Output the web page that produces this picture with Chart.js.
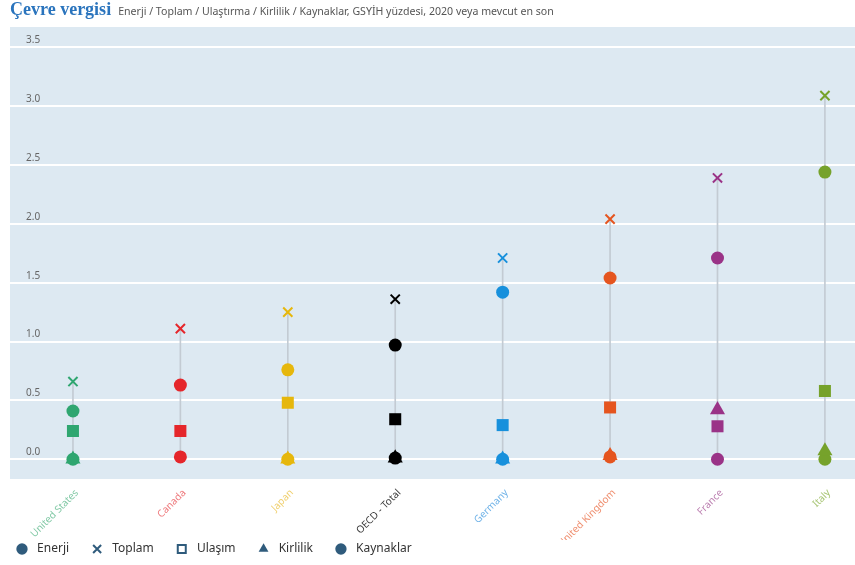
<!DOCTYPE html>
<html>
<head>
<meta charset="utf-8">
<script src="https://cdn.jsdelivr.net/npm/chart.js@4.4.1/dist/chart.umd.min.js"></script>
<style>
  body { margin: 0; background: #fff; }
  #wrap { position: relative; width: 855px; height: 565px; }
  #head { position: absolute; left: 10px; top: 0; height: 18px; line-height: 18px; white-space: nowrap; }
  #head b { font-family: "Liberation Serif", serif; font-size: 18px; color: #2a74bd; }
  #head span { font-family: "Noto Sans", sans-serif; font-size: 10.6px; color: #555; margin-left: 7px; }
  canvas { position: absolute; left: 0; top: 0; }
</style>
</head>
<body>
<div id="wrap">
  <canvas id="chart" width="855" height="565"></canvas>
  <div id="head"><b>Çevre vergisi</b><span>Enerji / Toplam / Ulaştırma / Kirlilik / Kaynaklar, GSYİH yüzdesi, 2020 veya mevcut en son</span></div>
</div>
<script>
// values, % of GDP
const countries = ['United States', 'Canada', 'Japan', 'OECD - Total', 'Germany', 'United Kingdom', 'France', 'Italy'];
const countryColors = ['#2fa670', '#e5262b', '#e6b70c', '#000000', '#1790dc', '#e5551f', '#9a3387', '#76a22b'];
const labelColors = ['#82c9a6', '#ee7a7d', '#f0d06f', '#3a3a3a', '#72b4e8', '#ef8e6e', '#bd82b2', '#a8c575'];

const enerji    = [0.41, 0.63, 0.76, 0.97, 1.42, 1.54, 1.71, 2.44];
const toplam    = [0.66, 1.11, 1.25, 1.36, 1.71, 2.04, 2.39, 3.09];
const ulasim    = [0.24, 0.24, 0.48, 0.34, 0.29, 0.44, 0.28, 0.58];
const kirlilik  = [0.00, null, 0.00, 0.01, 0.00, 0.03, 0.42, 0.07];
const kaynaklar = [0.00, 0.02, 0.00, 0.01, 0.00, 0.02, 0.00, 0.00];

const yTicks = [0, 0.5, 1, 1.5, 2, 2.5, 3, 3.5];

const legendColor = '#2f5b7c';

function pts(arr) {
    return arr.map((v, i) => ({ x: i, y: v }));
}

// grey stem from lowest to highest value for each country
const stems = countries.map((c, i) => {
    const vals = [enerji[i], toplam[i], ulasim[i], kirlilik[i], kaynaklar[i]].filter(v => v !== null);
    return { x: i, y: [Math.min(...vals), Math.max(...vals)] };
});

const plotBg = {
    id: 'plotBg',
    beforeDraw(chart) {
        const a = chart.chartArea;
        const ctx = chart.ctx;
        ctx.save();
        ctx.fillStyle = '#dde9f2';
        ctx.fillRect(a.left, a.top, a.right - a.left, a.bottom - a.top);
        ctx.restore();
    }
};

new Chart(document.getElementById('chart'), {
    type: 'scatter',
    data: {
        datasets: [
            { label: 'Enerji', data: pts(enerji), pointStyle: 'circle', pointRadius: 6.5,
              backgroundColor: countryColors, borderColor: countryColors, borderWidth: 0 },
            { label: 'Toplam', data: pts(toplam), pointStyle: 'crossRot', pointRadius: 6.5,
              backgroundColor: countryColors, borderColor: countryColors, borderWidth: 2 },
            { label: 'Ulaşım', data: pts(ulasim), pointStyle: 'rect', pointRadius: 8.5,
              backgroundColor: countryColors, borderColor: countryColors, borderWidth: 0 },
            { label: 'Kirlilik', data: pts(kirlilik), pointStyle: 'triangle', pointRadius: 8.7,
              backgroundColor: countryColors, borderColor: countryColors, borderWidth: 0 },
            { label: 'Kaynaklar', data: pts(kaynaklar), pointStyle: 'circle', pointRadius: 6.5,
              backgroundColor: countryColors, borderColor: countryColors, borderWidth: 0 },
            { type: 'bar', label: 'stem', data: stems, backgroundColor: '#c3cbd3',
              barThickness: 1, order: 5 }
        ]
    },
    options: {
        responsive: false,
        animation: false,
        events: [],
        layout: { autoPadding: false, padding: { top: 27, left: -6, right: 0, bottom: 0 } },
        plugins: {
            tooltip: { enabled: false },
            legend: {
                position: 'bottom',
                align: 'start',
                labels: {
                    usePointStyle: true,
                    boxWidth: 12,
                    boxHeight: 8,
                    padding: 22,
                    color: '#333',
                    font: { family: 'Noto Sans', size: 12 },
                    generateLabels() {
                        const styles = ['circle', 'crossRot', 'rect', 'triangle', 'circle'];
                        return ['Enerji', 'Toplam', 'Ulaşım', 'Kirlilik', 'Kaynaklar'].map((t, i) => ({
                            text: ' ' + t,
                            pointStyle: styles[i],
                            fillStyle: i === 2 ? 'rgba(0,0,0,0)' : legendColor,
                            strokeStyle: legendColor,
                            lineWidth: (i === 1 || i === 2) ? 2 : 0,
                            fontColor: '#333',
                            hidden: false,
                            datasetIndex: i
                        }));
                    }
                }
            }
        },
        scales: {
            x: {
                type: 'linear',
                offset: false,
                bounds: 'data',
                min: -0.586,
                max: 7.28,
                afterBuildTicks(scale) {
                    scale.ticks = countries.map((c, i) => ({ value: i }));
                },
                afterFit(scale) {
                    scale.height = 42;
                    scale.paddingLeft = 0;
                    scale.paddingRight = 0;
                    // labels run into the legend band; cut them off a bit lower like the original
                    scale._computeLabelArea = () => ({ top: scale.top, left: 0, bottom: scale.top + 61, right: scale.chart.width });
                },
                grid: { display: false, offset: false },
                border: { display: false },
                ticks: {
                    minRotation: 45,
                    maxRotation: 45,
                    padding: 0,
                    labelOffset: 4,
                    autoSkip: false,
                    font: { family: 'Noto Sans', size: 10 },
                    color: (ctx) => labelColors[ctx.index],
                    callback: (v) => countries[v]
                }
            },
            y: {
                bounds: 'data',
                min: -0.168,
                max: 3.673,
                afterBuildTicks(scale) {
                    scale.ticks = yTicks.map(v => ({ value: v }));
                },
                afterFit(scale) { scale.width = 16; },
                grid: { color: '#ffffff', lineWidth: 2, drawTicks: false },
                border: { display: false },
                ticks: {
                    mirror: true,
                    padding: 16,
                    labelOffset: -7,
                    color: '#666',
                    font: { family: 'Noto Sans', size: 10 },
                    callback: (v) => v.toFixed(1)
                }
            }
        }
    },
    plugins: [plotBg]
});
</script>
</body>
</html>
